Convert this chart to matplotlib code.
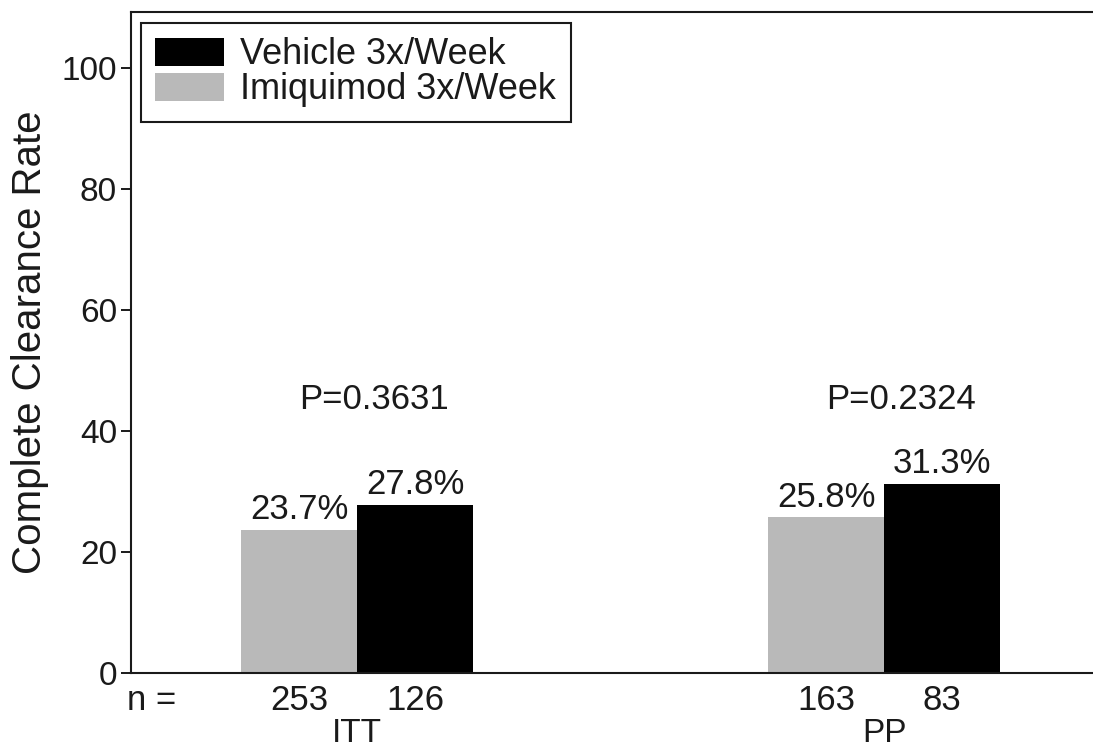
import numpy as np
import matplotlib
matplotlib.use('Agg')
import matplotlib.pyplot as plt
import matplotlib.transforms as mtransforms

# data
groups = ['ITT', 'PP']
imiquimod_rate = [23.7, 25.8]
vehicle_rate = [27.8, 31.3]
imiquimod_n = [253, 163]
vehicle_n = [126, 83]
p_values = ['P=0.3631', 'P=0.2324']
series_names = ['Vehicle 3x/Week', 'Imiquimod 3x/Week']

plt.rcParams['font.family'] = ['Liberation Sans', 'DejaVu Sans']
txt_color = '#1a1a1a'
fs = 25

fig = plt.figure(figsize=(10.93, 7.52), dpi=100)
ax = fig.add_axes([131 / 1093, 1 - 673 / 752, 1 - 131 / 1093, (673 - 12) / 752])

x = np.arange(1, len(groups) + 1)
width = 0.22
grey = '#b9b9b9'

bars_imi = ax.bar(x - width / 2, imiquimod_rate, width, color=grey, label=series_names[1])
bars_veh = ax.bar(x + width / 2, vehicle_rate, width, color='black', label=series_names[0])

# value labels above bars
for bars, vals in [(bars_imi, imiquimod_rate), (bars_veh, vehicle_rate)]:
    for b, v in zip(bars, vals):
        ax.annotate(f'{v}%', (b.get_x() + b.get_width() / 2, v),
                    xytext=(0, 2.5), textcoords='offset points',
                    ha='center', va='bottom', fontsize=fs, color=txt_color)

# p values, slightly right of the group centre
for xi, p in zip(x, p_values):
    ax.text(xi + 0.033, 45.2, p, ha='center', va='center', fontsize=fs, color=txt_color)

# n row below the axis
trans = mtransforms.blended_transform_factory(ax.transData, ax.transAxes)
ax.text(0.611, -0.041, 'n =', transform=trans, ha='center', va='center', fontsize=fs, color=txt_color)
for xi, ni, nv in zip(x, imiquimod_n, vehicle_n):
    ax.text(xi - width / 2, -0.041, str(ni), transform=trans, ha='center', va='center', fontsize=fs, color=txt_color)
    ax.text(xi + width / 2, -0.041, str(nv), transform=trans, ha='center', va='center', fontsize=fs, color=txt_color)

ax.set_xticks(x)
ax.set_xticklabels(groups, color=txt_color, fontsize=24)
ax.tick_params(axis='x', length=0, pad=32.5)

ax.set_xlim(0.571, 0.571 + 962 / 527)
ax.set_ylim(0, 109.3)
ax.set_yticks([0, 20, 40, 60, 80, 100])
ax.tick_params(axis='y', length=7, width=1.4, labelsize=24, colors=txt_color, pad=3)
ax.set_ylabel('Complete Clearance Rate', fontsize=29, color=txt_color, labelpad=9)

ax.spines['right'].set_visible(False)
for s in ['left', 'top', 'bottom']:
    ax.spines[s].set_linewidth(1.5)
    ax.spines[s].set_color(txt_color)

handles = [bars_veh, bars_imi]
leg = ax.legend(handles, series_names, loc='upper left',
                bbox_to_anchor=(141 / 1093, 1 - 23 / 752), bbox_transform=fig.transFigure,
                borderaxespad=0, fancybox=False, edgecolor=txt_color, framealpha=1,
                handlelength=1.9, handleheight=0.83, labelspacing=0.0,
                handletextpad=0.45, borderpad=0.4, fontsize=26)
leg.get_frame().set_linewidth(1.5)
for t in leg.get_texts():
    t.set_color(txt_color)

fig.savefig('out.png', dpi=100)
